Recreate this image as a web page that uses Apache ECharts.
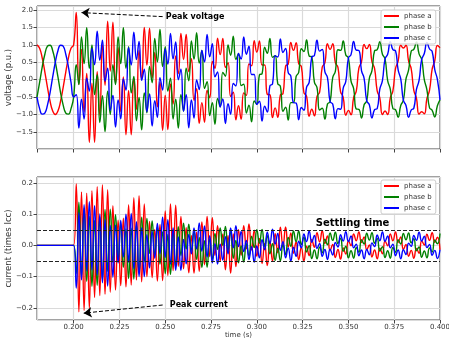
<!DOCTYPE html>
<html>
<head>
<meta charset="utf-8">
<script src="https://cdn.jsdelivr.net/npm/echarts@6/dist/echarts.min.js"></script>
<style>
  html, body { margin: 0; padding: 0; background: #fff; }
  #chart { width: 449px; height: 342px; }
</style>
</head>
<body>
<div id="chart"></div>
<script>
// sample times (s)
const timeS = [
  0.18, 0.18143, 0.18286, 0.18429, 0.18571, 0.18714, 0.18857,
  0.19, 0.19143, 0.19286, 0.19429, 0.19571, 0.19714, 0.19857,
  0.2, 0.20143, 0.20286, 0.20429, 0.20571, 0.20714, 0.20857,
  0.21, 0.21143, 0.21286, 0.21429, 0.21571, 0.21714, 0.21857,
  0.22, 0.22143, 0.22286, 0.22429, 0.22571, 0.22714, 0.22857,
  0.23, 0.23143, 0.23286, 0.23429, 0.23571, 0.23714, 0.23857,
  0.24, 0.24143, 0.24286, 0.24429, 0.24571, 0.24714, 0.24857,
  0.25, 0.25143, 0.25286, 0.25429, 0.25571, 0.25714, 0.25857,
  0.26, 0.26143, 0.26286, 0.26429, 0.26571, 0.26714, 0.26857,
  0.27, 0.27143, 0.27286, 0.27429, 0.27571, 0.27714, 0.27857,
  0.28, 0.28143, 0.28286, 0.28429, 0.28571, 0.28714, 0.28857,
  0.29, 0.29143, 0.29286, 0.29429, 0.29571, 0.29714, 0.29857,
  0.3, 0.30143, 0.30286, 0.30429, 0.30571, 0.30714, 0.30857,
  0.31, 0.31143, 0.31286, 0.31429, 0.31571, 0.31714, 0.31857,
  0.32, 0.32143, 0.32286, 0.32429, 0.32571, 0.32714, 0.32857,
  0.33, 0.33143, 0.33286, 0.33429, 0.33571, 0.33714, 0.33857,
  0.34, 0.34143, 0.34286, 0.34429, 0.34571, 0.34714, 0.34857,
  0.35, 0.35143, 0.35286, 0.35429, 0.35571, 0.35714, 0.35857,
  0.36, 0.36143, 0.36286, 0.36429, 0.36571, 0.36714, 0.36857,
  0.37, 0.37143, 0.37286, 0.37429, 0.37571, 0.37714, 0.37857,
  0.38, 0.38143, 0.38286, 0.38429, 0.38571, 0.38714, 0.38857,
  0.39, 0.39143, 0.39286, 0.39429, 0.39571, 0.39714, 0.39857,
  0.4
]

// voltage (p.u.)
const voltA = [
  1, 0.9, 0.62, 0.22, -0.22, -0.62, -0.9, -1, -0.9, -0.62, -0.22, 0.22, 0.62, 0.9,
  1, 1.93, -0.13, 0.87, -0.92, 0.18, -1.8, -0.1, -1.8, 0.23, -1.02, 1, -0.16, 1.68,
  0.25, 1.65, -0.1, 0.92, -0.92, 0.08, -1.58, -0.32, -1.58, 0.03, -0.85, 0.84, 0.02, 1.5,
  0.42, 1.48, 0.05, 0.78, -0.78, -0.07, -1.45, -0.45, -1.43, -0.12, -0.7, 0.68, 0.17, 1.33,
  0.58, 1.3, 0.23, 0.6, -0.59, -0.26, -1.25, -0.66, -1.22, -0.31, -0.52, 0.52, 0.33, 1.19,
  0.72, 1.18, 0.35, 0.49, -0.48, -0.36, -1.15, -0.75, -1.14, -0.38, -0.45, 0.45, 0.4, 1.12,
  0.79, 1.11, 0.42, 0.42, -0.42, -0.43, -1.09, -0.81, -1.08, -0.44, -0.4, 0.39, 0.45, 1.07,
  0.84, 1.06, 0.46, 0.38, -0.37, -0.47, -1.05, -0.85, -1.04, -0.48, -0.36, 0.36, 0.48, 1.03,
  0.87, 1.03, 0.49, 0.35, -0.34, -0.5, -1.02, -0.88, -1.01, -0.51, -0.33, 0.33, 0.51, 1.01,
  0.89, 1.01, 0.51, 0.32, -0.32, -0.52, -1, -0.9, -1, -0.52, -0.32, 0.32, 0.53, 0.99,
  0.91, 0.99, 0.53, 0.31, -0.31, -0.53, -0.99, -0.92, -0.98, -0.54, -0.3, 0.3, 0.54, 0.98,
  0.92
]
const voltB = [
  -0.5, -0.08, 0.37, 0.73, 0.96, 0.99, 0.83, 0.5, 0.08, -0.37, -0.73, -0.96, -0.99, -0.83,
  -0.5, 0.43, -0.14, 1.23, 0.46, 1.49, 0.33, 1, -0.43, 0.14, -1.23, -0.46, -1.49, -0.33,
  -1, 0.43, -0.14, 1.23, 0.46, 1.49, 0.33, 0.95, -0.38, 0.09, -1.18, -0.51, -1.44, -0.38,
  -0.95, 0.38, -0.09, 1.18, 0.51, 1.44, 0.38, 0.95, -0.33, 0.04, -1.13, -0.56, -1.39, -0.43,
  -0.9, 0.33, -0.03, 1.11, 0.59, 1.35, 0.48, 0.84, -0.25, -0.06, -1.03, -0.66, -1.28, -0.54,
  -0.78, 0.21, 0.1, 1, 0.7, 1.25, 0.58, 0.75, -0.17, -0.13, -0.96, -0.73, -1.21, -0.61,
  -0.71, 0.14, 0.17, 0.93, 0.76, 1.18, 0.64, 0.69, -0.11, -0.19, -0.91, -0.79, -1.16, -0.66,
  -0.66, 0.09, 0.21, 0.89, 0.81, 1.14, 0.68, 0.65, -0.07, -0.23, -0.87, -0.82, -1.13, -0.7,
  -0.63, 0.06, 0.24, 0.86, 0.84, 1.11, 0.71, 0.62, -0.04, -0.26, -0.84, -0.85, -1.1, -0.72,
  -0.61, 0.04, 0.26, 0.83, 0.86, 1.09, 0.73, 0.6, -0.03, -0.27, -0.83, -0.86, -1.08, -0.74,
  -0.59, 0.02, 0.28, 0.82, 0.87, 1.08, 0.74, 0.58, 0, -0.29, -0.81, -0.88, -1.07, -0.75,
  -0.58
]
const voltC = [
  -0.5, -0.83, -0.99, -0.96, -0.73, -0.37, 0.08, 0.5, 0.83, 0.99, 0.96, 0.73, 0.37, -0.08,
  -0.5, -0.43, -1.39, -0.56, -1.13, 0.04, -0.33, 0.9, 0.43, 1.39, 0.56, 1.13, -0.04, 0.33,
  -0.88, -0.45, -1.36, -0.58, -1.12, 0.02, -0.3, 0.92, 0.42, 1.36, 0.58, 1.1, -0.02, 0.3,
  -0.92, -0.41, -1.33, -0.6, -1.08, 0.06, -0.3, 0.88, 0.45, 1.33, 0.6, 1.08, 0, 0.3,
  -0.9, -0.43, -1.38, -0.58, -1.1, -0.01, -0.28, 0.84, 0.51, 1.3, 0.66, 1.03, 0.08, 0.22,
  -0.78, -0.55, -1.26, -0.69, -0.99, -0.11, -0.18, 0.75, 0.59, 1.23, 0.73, 0.96, 0.15, 0.15,
  -0.71, -0.62, -1.19, -0.76, -0.93, -0.18, -0.12, 0.69, 0.65, 1.17, 0.78, 0.9, 0.2, 0.1,
  -0.66, -0.67, -1.15, -0.8, -0.88, -0.22, -0.08, 0.65, 0.69, 1.13, 0.82, 0.87, 0.23, 0.06,
  -0.63, -0.7, -1.12, -0.83, -0.85, -0.25, -0.05, 0.62, 0.72, 1.1, 0.85, 0.84, 0.26, 0.04,
  -0.61, -0.72, -1.1, -0.86, -0.83, -0.27, -0.03, 0.6, 0.73, 1.09, 0.86, 0.83, 0.28, 0.02,
  -0.59, -0.74, -1.08, -0.87, -0.82, -0.28, -0.02, 0.58, 0.75, 1.07, 0.88, 0.81, 0.29, 0.01,
  -0.58
]

// current (times Icc)
const curA = [
  0, 0, 0, 0, 0, 0, 0, 0, 0, 0, 0, 0, 0, 0,
  0, 0.197, -0.213, 0.171, -0.209, 0.167, -0.203, 0.175, -0.167, 0.188, -0.161, 0.194, -0.157, 0.178,
  -0.15, 0.127, -0.143, 0.081, -0.129, 0.087, -0.133, 0.13, -0.127, 0.153, -0.111, 0.159, -0.117, 0.133,
  -0.1, 0.077, -0.103, 0.051, -0.114, 0.067, -0.113, 0.11, -0.097, 0.133, -0.081, 0.129, -0.067, 0.093,
  -0.075, 0.057, -0.088, 0.031, -0.089, 0.042, -0.083, 0.075, -0.062, 0.093, -0.036, 0.089, -0.032, 0.063,
  -0.05, 0.037, -0.078, 0.031, -0.089, 0.037, -0.068, 0.05, -0.032, 0.063, -0.011, 0.069, -0.015, 0.049,
  -0.035, 0.022, -0.058, 0.006, -0.065, 0.014, -0.051, 0.038, -0.024, 0.058, -0.004, 0.059, -0.005, 0.04,
  -0.025, 0.011, -0.046, -0.007, -0.05, -0.003, -0.033, 0.019, -0.006, 0.041, 0.011, 0.047, 0.006, 0.03,
  -0.017, 0.003, -0.039, -0.013, -0.044, -0.008, -0.028, 0.015, -0.001, 0.037, 0.015, 0.043, 0.009, 0.027,
  -0.014, 0.001, -0.037, -0.015, -0.043, -0.009, -0.027, 0.014, -0.001, 0.037, 0.015, 0.043, 0.009, 0.027,
  -0.013, 0.003, -0.035, -0.016, -0.041, -0.01, -0.025, 0.015, 0.001, 0.036, 0.016, 0.041, 0.01, 0.026,
  -0.014
]
const curB = [
  0, 0, 0, 0, 0, 0, 0, 0, 0, 0, 0, 0, 0, 0,
  0, -0.09, 0.138, -0.1, 0.119, -0.115, 0.093, -0.131, 0.08, -0.128, 0.09, -0.109, 0.115, -0.083,
  0.116, -0.055, 0.098, -0.045, 0.069, -0.07, 0.053, -0.106, 0.055, -0.108, 0.065, -0.089, 0.09, -0.053,
  0.086, -0.025, 0.078, -0.03, 0.059, -0.06, 0.043, -0.091, 0.035, -0.093, 0.045, -0.069, 0.06, -0.033,
  0.071, -0.012, 0.068, -0.016, 0.045, -0.045, 0.025, -0.071, 0.015, -0.07, 0.02, -0.045, 0.038, -0.013,
  0.056, 0, 0.061, -0.016, 0.045, -0.041, 0.016, -0.056, -0.002, -0.053, 0.005, -0.034, 0.029, -0.007,
  0.05, 0.007, 0.051, -0.003, 0.031, -0.027, 0.005, -0.048, -0.009, -0.049, 0.001, -0.029, 0.025, -0.003,
  0.046, 0.012, 0.046, 0.003, 0.026, -0.021, -0.001, -0.042, -0.015, -0.043, -0.005, -0.024, 0.02, 0.002,
  0.04, 0.016, 0.042, 0.006, 0.023, -0.019, -0.003, -0.04, -0.017, -0.041, -0.007, -0.022, 0.018, 0.004,
  0.039, 0.017, 0.041, 0.007, 0.022, -0.018, -0.004, -0.039, -0.017, -0.041, -0.007, -0.022, 0.018, 0.004,
  0.038, 0.018, 0.04, 0.008, 0.021, -0.017, -0.005, -0.038, -0.018, -0.04, -0.008, -0.021, 0.017, 0.005,
  0.038
]
const curC = [
  0, 0, 0, 0, 0, 0, 0, 0, 0, 0, 0, 0, 0, 0,
  0, -0.137, 0.105, -0.111, 0.13, -0.082, 0.14, -0.079, 0.127, -0.095, 0.101, -0.12, 0.082, -0.13,
  0.064, -0.102, 0.065, -0.056, 0.08, -0.037, 0.1, -0.054, 0.102, -0.075, 0.076, -0.1, 0.057, -0.1,
  0.034, -0.072, 0.045, -0.041, 0.07, -0.027, 0.09, -0.039, 0.082, -0.06, 0.056, -0.08, 0.027, -0.08,
  0.019, -0.059, 0.035, -0.027, 0.056, -0.012, 0.072, -0.019, 0.062, -0.037, 0.031, -0.056, 0.005, -0.06,
  0.004, -0.047, 0.028, -0.027, 0.056, -0.008, 0.063, -0.004, 0.045, -0.02, 0.016, -0.045, -0.004, -0.054,
  -0.002, -0.04, 0.018, -0.014, 0.042, 0.006, 0.052, 0.004, 0.038, -0.016, 0.012, -0.04, -0.008, -0.05,
  -0.006, -0.035, 0.013, -0.008, 0.037, 0.012, 0.046, 0.01, 0.032, -0.01, 0.006, -0.035, -0.013, -0.045,
  -0.012, -0.031, 0.009, -0.005, 0.034, 0.014, 0.044, 0.012, 0.03, -0.008, 0.004, -0.033, -0.015, -0.043,
  -0.013, -0.03, 0.008, -0.004, 0.033, 0.015, 0.043, 0.013, 0.03, -0.008, 0.004, -0.033, -0.015, -0.043,
  -0.014, -0.029, 0.007, -0.003, 0.032, 0.016, 0.042, 0.014, 0.029, -0.007, 0.003, -0.032, -0.016, -0.042,
  -0.014
]

const phases = ['phase a', 'phase b', 'phase c']
const settleBand = [0.05, -0.05]

const FONT = 'DejaVu Sans'
const colors = ['#ff0000', '#008000', '#0000ff']

// minus sign like matplotlib
function fmt(v, d) {
  return (v < -1e-9 ? '\u2212' : '') + Math.abs(v).toFixed(d)
}

function xAxisCfg(idx) {
  return {
    type: 'value', gridIndex: idx, min: 0.18, max: 0.4,
    splitNumber: 9, minInterval: 0.025, maxInterval: 0.025,
    name: idx === 1 ? 'time (s)' : '', nameLocation: 'middle', nameGap: 12,
    nameTextStyle: { fontFamily: FONT, fontSize: 7, color: '#333' },
    axisLine: { show: false, onZero: false },
    axisTick: { show: true, length: 3.5, lineStyle: { color: '#444' } },
    axisLabel: {
      show: idx === 1, showMinLabel: false, margin: 4,
      fontFamily: FONT, fontSize: 7, color: '#333',
      formatter: v => v.toFixed(3)
    },
    splitLine: { show: true, lineStyle: { color: '#dadada', width: 1.2 } }
  }
}

function yAxisCfg(idx, min, max, step, name, dec) {
  return {
    type: 'value', gridIndex: idx, min: min, max: max,
    splitNumber: 8, minInterval: step, maxInterval: step,
    name: name, nameLocation: 'middle', nameRotate: 90,
    nameGap: 24, nameMoveOverlap: false,
    nameTextStyle: { fontFamily: FONT, fontSize: 8.5, color: '#333' },
    axisLine: { show: false, onZero: false },
    axisTick: { show: true, length: 3.5, lineStyle: { color: '#444' } },
    axisLabel: {
      showMinLabel: false, showMaxLabel: false, margin: 4,
      fontFamily: FONT, fontSize: 7, color: '#333',
      formatter: v => fmt(v, dec)
    },
    splitLine: { show: true, lineStyle: { color: '#dadada', width: 1.2 } }
  }
}

function legendCfg(top) {
  return {
    top: top, left: 381, orient: 'vertical', icon: 'rect',
    itemWidth: 15, itemHeight: 2, itemGap: 3, padding: [2, 4, 2, 3],
    borderColor: '#ccc', borderWidth: 1, borderRadius: 2,
    backgroundColor: 'rgba(255,255,255,0.85)',
    textStyle: { fontFamily: FONT, fontSize: 7, lineHeight: 8, color: '#333' },
    data: phases
  }
}

const noteLabel = (size) => ({
  show: true, position: 'right', distance: 0,
  fontFamily: FONT, fontWeight: 'bold', fontSize: size, color: '#000'
})

const arrowLine = (from, to) => ({
  silent: true, symbol: ['none', 'arrow'], symbolSize: 8,
  label: { show: false },
  lineStyle: { type: [4, 2], color: '#000', width: 1 },
  data: [[{ coord: from }, { coord: to }]]
})

function wave(name, i, gridIdx, values, extra) {
  return Object.assign({
    name: name, type: 'line',
    xAxisIndex: gridIdx, yAxisIndex: gridIdx,
    data: timeS.map((t, k) => [t, values[k]]),
    showSymbol: false, smooth: true,
    lineStyle: { color: colors[i], width: 1.4 },
    itemStyle: { color: colors[i] }
  }, extra || {})
}

const chart = echarts.init(document.getElementById('chart'))
chart.setOption({
  animation: false,
  backgroundColor: '#fff',
  grid: [
    { left: 37, right: 9, top: 6, height: 143, show: true, borderColor: '#444', borderWidth: 1, outerBoundsMode: 'none' },
    { left: 37, right: 9, top: 177, height: 143, show: true, borderColor: '#444', borderWidth: 1, outerBoundsMode: 'none' }
  ],
  xAxis: [xAxisCfg(0), xAxisCfg(1)],
  yAxis: [
    yAxisCfg(0, -1.99, 2.115, 0.5, 'voltage (p.u.)', 1),
    yAxisCfg(1, -0.239, 0.219, 0.1, 'current (times Icc)', 1)
  ],
  legend: [legendCfg(10), legendCfg(180)],
  series: [
    wave(phases[0], 0, 0, voltA, {
      markLine: arrowLine([0.2486, 1.81], [0.2043, 1.925]),
      markPoint: {
        silent: true, symbol: 'circle', symbolSize: 0, label: noteLabel(8),
        data: [{ coord: [0.2503, 1.81], label: { formatter: 'Peak voltage' } }]
      }
    }),
    wave(phases[1], 1, 0, voltB),
    wave(phases[2], 2, 0, voltC),
    wave(phases[0], 0, 1, curA, {
      markLine: arrowLine([0.2486, -0.191], [0.2055, -0.217]),
      markPoint: {
        silent: true, symbol: 'circle', symbolSize: 0, label: noteLabel(8),
        data: [{ coord: [0.2525, -0.191], label: { formatter: 'Peak current' } }]
      }
    }),
    wave(phases[1], 1, 1, curB),
    wave(phases[2], 2, 1, curC, {
      markLine: {
        silent: true, symbol: 'none', label: { show: false },
        lineStyle: { type: [4, 2], color: '#222', width: 1.2 },
        data: settleBand.map(v => ({ yAxis: v }))
      },
      markPoint: {
        silent: true, symbol: 'circle', symbolSize: 0, label: noteLabel(10),
        data: [{ coord: [0.3322, 0.071], label: { formatter: 'Settling time' } }]
      }
    })
  ]
})
</script>
</body>
</html>
